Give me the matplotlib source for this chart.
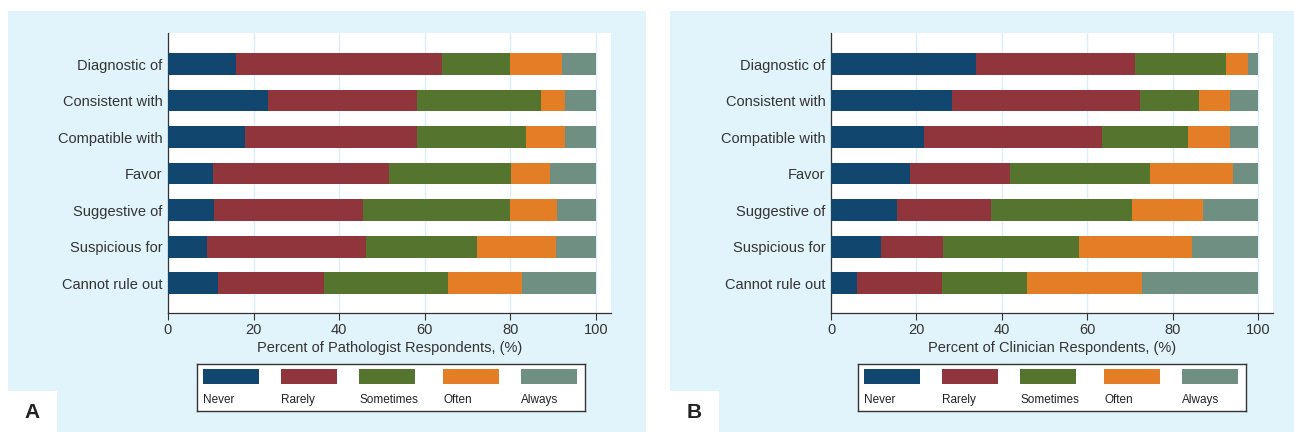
import numpy as np
import matplotlib
matplotlib.use("Agg")
import matplotlib.pyplot as plt
from matplotlib.patches import Rectangle

plt.rcParams['font.family'] = ['Liberation Sans', 'DejaVu Sans']

# Data (percent of respondents)
terms = ['Diagnostic of', 'Consistent with', 'Compatible with', 'Favor',
         'Suggestive of', 'Suspicious for', 'Cannot rule out']
responses = ['Never', 'Rarely', 'Sometimes', 'Often', 'Always']
colors = ['#11466E', '#90353B', '#55752F', '#E37E26', '#6F8F83']

path_never = [16.0, 23.4, 18.0, 10.5, 10.8, 9.1, 11.6]
path_rarely = [48.0, 34.7, 40.1, 41.1, 34.7, 37.1, 24.8]
path_sometimes = [16.0, 29.1, 25.6, 28.6, 34.4, 26.0, 29.0]
path_often = [12.0, 5.6, 9.1, 9.1, 11.0, 18.5, 17.3]
path_always = [8.0, 7.2, 7.2, 10.7, 9.1, 9.3, 17.3]

clin_never = [34.0, 28.4, 21.8, 18.4, 15.5, 11.7, 6.1]
clin_rarely = [37.2, 44.0, 41.7, 23.4, 22.0, 14.5, 19.9]
clin_sometimes = [21.3, 13.8, 20.1, 33.0, 33.0, 31.9, 19.9]
clin_often = [5.2, 7.3, 9.9, 19.4, 16.7, 26.5, 27.0]
clin_always = [2.3, 6.5, 6.5, 5.8, 12.8, 15.4, 27.1]

W, H = 1294, 432
BG = '#E1F3FB'

fig = plt.figure(figsize=(W / 100, H / 100), dpi=100)


def px_box(x0, y0, x1, y1):
    # pixel box (top-left origin) -> figure fraction [left, bottom, width, height]
    return [x0 / W, 1 - y1 / H, (x1 - x0) / W, (y1 - y0) / H]


# background layer in pixel coordinates
bg = fig.add_axes([0, 0, 1, 1], zorder=-10)
bg.set_xlim(0, W)
bg.set_ylim(H, 0)
bg.axis('off')
bg.add_patch(Rectangle((8, 11), 638, H - 11, color=BG, lw=0))
bg.add_patch(Rectangle((670, 11), W - 670, H - 11, color=BG, lw=0))
bg.add_patch(Rectangle((8, 391), 49, 41, color='white', lw=0))
bg.add_patch(Rectangle((670, 391), 49, 41, color='white', lw=0))
bg.text(32, 413, 'A', fontsize=15, fontweight='bold', color='#222222',
        ha='center', va='center')
bg.text(694, 413, 'B', fontsize=15, fontweight='bold', color='#222222',
        ha='center', va='center')


def draw_panel(px_left, px_right, series, xlabel, legend_left):
    ax = fig.add_axes(px_box(px_left, 33, px_right, 313))
    y = np.arange(len(terms))
    left = np.zeros(len(terms))
    for vals, name, c in zip(series, responses, colors):
        ax.barh(y, vals, left=left, height=0.6, color=c, label=name, zorder=3)
        left += np.array(vals)
    ax.set_xlim(0, 103.5)
    ax.set_ylim(6.82, -0.85)
    ax.set_yticks(y)
    ax.set_yticklabels(terms, fontsize=10.5, color='#333333')
    ax.set_xticks([0, 20, 40, 60, 80, 100])
    ax.tick_params(axis='y', length=0, pad=4)
    ax.tick_params(axis='x', length=5, width=0.8, color='#333333', labelsize=10.5,
                   labelcolor='#333333', pad=2)
    ax.xaxis.grid(True, color='#DCEFF8', linewidth=1, zorder=0)
    for s in ['top', 'right']:
        ax.spines[s].set_visible(False)
    for s in ['left', 'bottom']:
        ax.spines[s].set_color('#333333')
        ax.spines[s].set_linewidth(0.9)
    ax.set_xlabel(xlabel, fontsize=10.5, color='#333333', labelpad=3)

    # legend drawn as its own boxed axes: key patch above each label
    lax = fig.add_axes(px_box(legend_left, 364, legend_left + 388, 411))
    lax.set_xlim(0, 388)
    lax.set_ylim(47, 0)
    lax.set_xticks([])
    lax.set_yticks([])
    for s in lax.spines.values():
        s.set_color('#333333')
        s.set_linewidth(1.0)
    offsets = [6, 84, 162, 246, 324]
    for off, name, c in zip(offsets, responses, colors):
        lax.add_patch(Rectangle((off, 5), 56, 15, color=c, lw=0))
        lax.text(off, 36, name, fontsize=8.5, color='#222222', va='center', ha='left')
    return ax


draw_panel(168, 611,
           [path_never, path_rarely, path_sometimes, path_often, path_always],
           'Percent of Pathologist Respondents, (%)', 197)
draw_panel(831, 1273,
           [clin_never, clin_rarely, clin_sometimes, clin_often, clin_always],
           'Percent of Clinician Respondents, (%)', 858)

fig.savefig('out.png', dpi=100, facecolor='white')
